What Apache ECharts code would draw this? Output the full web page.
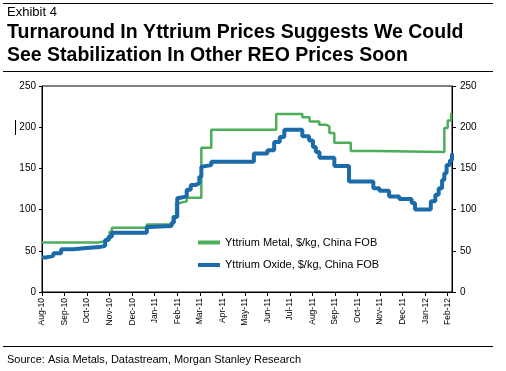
<!DOCTYPE html>
<html>
<head>
<meta charset="utf-8">
<script src="https://cdn.jsdelivr.net/npm/echarts@6.0.0/dist/echarts.min.js"></script>
<style>
html,body{margin:0;padding:0;background:#fff;}
#chart{width:506px;height:371px;}
</style>
</head>
<body>
<div id="chart"></div>
<script>
// Month tick labels (index 0 = Aug-10)
var months = ['Aug-10','Sep-10','Oct-10','Nov-10','Dec-10','Jan-11','Feb-11','Mar-11','Apr-11','May-11','Jun-11','Jul-11','Aug-11','Sep-11','Oct-11','Nov-11','Dec-11','Jan-12','Feb-12'];
var yTicks = [0, 50, 100, 150, 200, 250];

// Yttrium Metal, $/kg : [month position, new price level]
var metalSteps = [[0,60],[2.5,62],[2.85,63],[3.0,73],[3.1,78],[4.65,82],[5.8,92],[5.95,108],[6.1,110],[6.42,114.5],[7.07,175],[7.51,197],[10.39,216],[11.55,212],[11.87,207],[12.3,203],[12.6,201],[12.75,193],[12.97,181],[13.7,171],[14.75,170],[17.85,199],[18.0,208],[18.15,216],[18.19,217]];

// Yttrium Oxide, $/kg : [month position, new price level]
var oxideSteps = [[0,42],[0.2,44],[0.5,47],[0.85,52],[1.4,53],[1.85,54.5],[2.55,56],[2.8,63],[2.95,67],[3.1,72],[4.65,79],[4.75,80],[5.75,84],[5.85,91],[6.0,114],[6.1,116],[6.42,124],[6.6,130],[6.83,132],[6.98,140],[7.07,152],[7.15,154],[7.51,158],[9.4,168],[10.0,172],[10.3,182],[10.55,188],[10.75,197],[11.55,189],[11.85,184],[12.02,176],[12.15,170],[12.31,163],[12.97,153],[13.62,134],[14.7,126],[14.97,123],[15.4,116],[15.85,113],[16.4,108],[16.55,100],[17.25,110],[17.45,118],[17.6,126],[17.75,136],[17.85,144],[17.95,154],[18.1,160],[18.19,168]];

var seriesNames = ['Yttrium Metal, $/kg, China FOB', 'Yttrium Oxide, $/kg, China FOB'];

var FONT = '"Liberation Sans", Arial, sans-serif';
var monthIdx = months.map(function(m, i){ return i; });

var chart = echarts.init(document.getElementById('chart'), null, {renderer: 'canvas'});

function yAxisDef(pos, tickLen, margin) {
  return {
    type: 'value', position: pos, min: 0, max: 250, interval: 50,
    axisLine: {show: true, lineStyle: {color: '#000', width: 1}},
    axisTick: {show: true, length: tickLen, lineStyle: {color: '#000'}},
    axisLabel: {color: '#000', fontSize: 10, fontFamily: FONT, margin: margin},
    splitLine: {show: false}
  };
}

chart.setOption({
  animation: false,
  backgroundColor: '#fff',
  title: [
    {text: 'Exhibit 4', left: 7, top: 6, padding: 0,
     textStyle: {fontFamily: FONT, fontSize: 13, fontWeight: 'normal', color: '#000', lineHeight: 13}},
    {text: 'Turnaround In Yttrium Prices Suggests We Could\nSee Stabilization In Other REO Prices Soon', left: 7, top: 21, padding: 0,
     textStyle: {fontFamily: FONT, fontSize: 19.5, fontWeight: 'bold', color: '#000', lineHeight: 23}},
    {text: 'Source: Asia Metals, Datastream, Morgan Stanley Research', left: 7, top: 354, padding: 0,
     textStyle: {fontFamily: FONT, fontSize: 11, fontWeight: 'normal', color: '#000', lineHeight: 12}}
  ],
  graphic: [
    {type: 'line', shape: {x1: 3, y1: 3.5, x2: 493, y2: 3.5}, style: {stroke: '#000', lineWidth: 1}},
    {type: 'line', shape: {x1: 3, y1: 71.5, x2: 493, y2: 71.5}, style: {stroke: '#000', lineWidth: 1}},
    {type: 'line', shape: {x1: 3, y1: 346.5, x2: 493, y2: 346.5}, style: {stroke: '#000', lineWidth: 1}},
    {type: 'line', shape: {x1: 15.5, y1: 120, x2: 15.5, y2: 135}, style: {stroke: '#000', lineWidth: 1}}
  ],
  legend: {
    orient: 'vertical', left: 198, top: 236.5, padding: 0,
    icon: 'rect', itemWidth: 22, itemHeight: 4, itemGap: 10.5,
    textStyle: {fontFamily: FONT, fontSize: 11, color: '#000', lineHeight: 12},
    data: seriesNames
  },
  grid: {left: 42, right: 54, top: 86, bottom: 79, show: true, borderColor: '#000', borderWidth: 1, containLabel: false},
  xAxis: {
    type: 'value', min: 0, max: 18.19, interval: 1,
    axisLine: {show: true, lineStyle: {color: '#000', width: 1}},
    axisTick: {show: true, length: 4, lineStyle: {color: '#000'}, customValues: monthIdx},
    axisLabel: {
      rotate: 90, fontSize: 8.5, fontFamily: FONT, color: '#000', margin: 6,
      customValues: monthIdx,
      formatter: function(v){ return (Math.abs(v - Math.round(v)) < 1e-6 && months[Math.round(v)]) ? months[Math.round(v)] : ''; }
    },
    splitLine: {show: false}
  },
  yAxis: [yAxisDef('left', 3, 6), yAxisDef('right', 4, 8)],
  series: [
    {name: seriesNames[0], type: 'line', step: 'end', symbol: 'none', data: metalSteps,
     lineStyle: {color: '#4DAE5A', width: 2.5}, itemStyle: {color: '#4DAE5A'}, z: 2},
    {name: seriesNames[1], type: 'line', step: 'end', symbol: 'none', data: oxideSteps,
     lineStyle: {color: '#1B6BAA', width: 4}, itemStyle: {color: '#1B6BAA'}, z: 3}
  ]
});
</script>
</body>
</html>
